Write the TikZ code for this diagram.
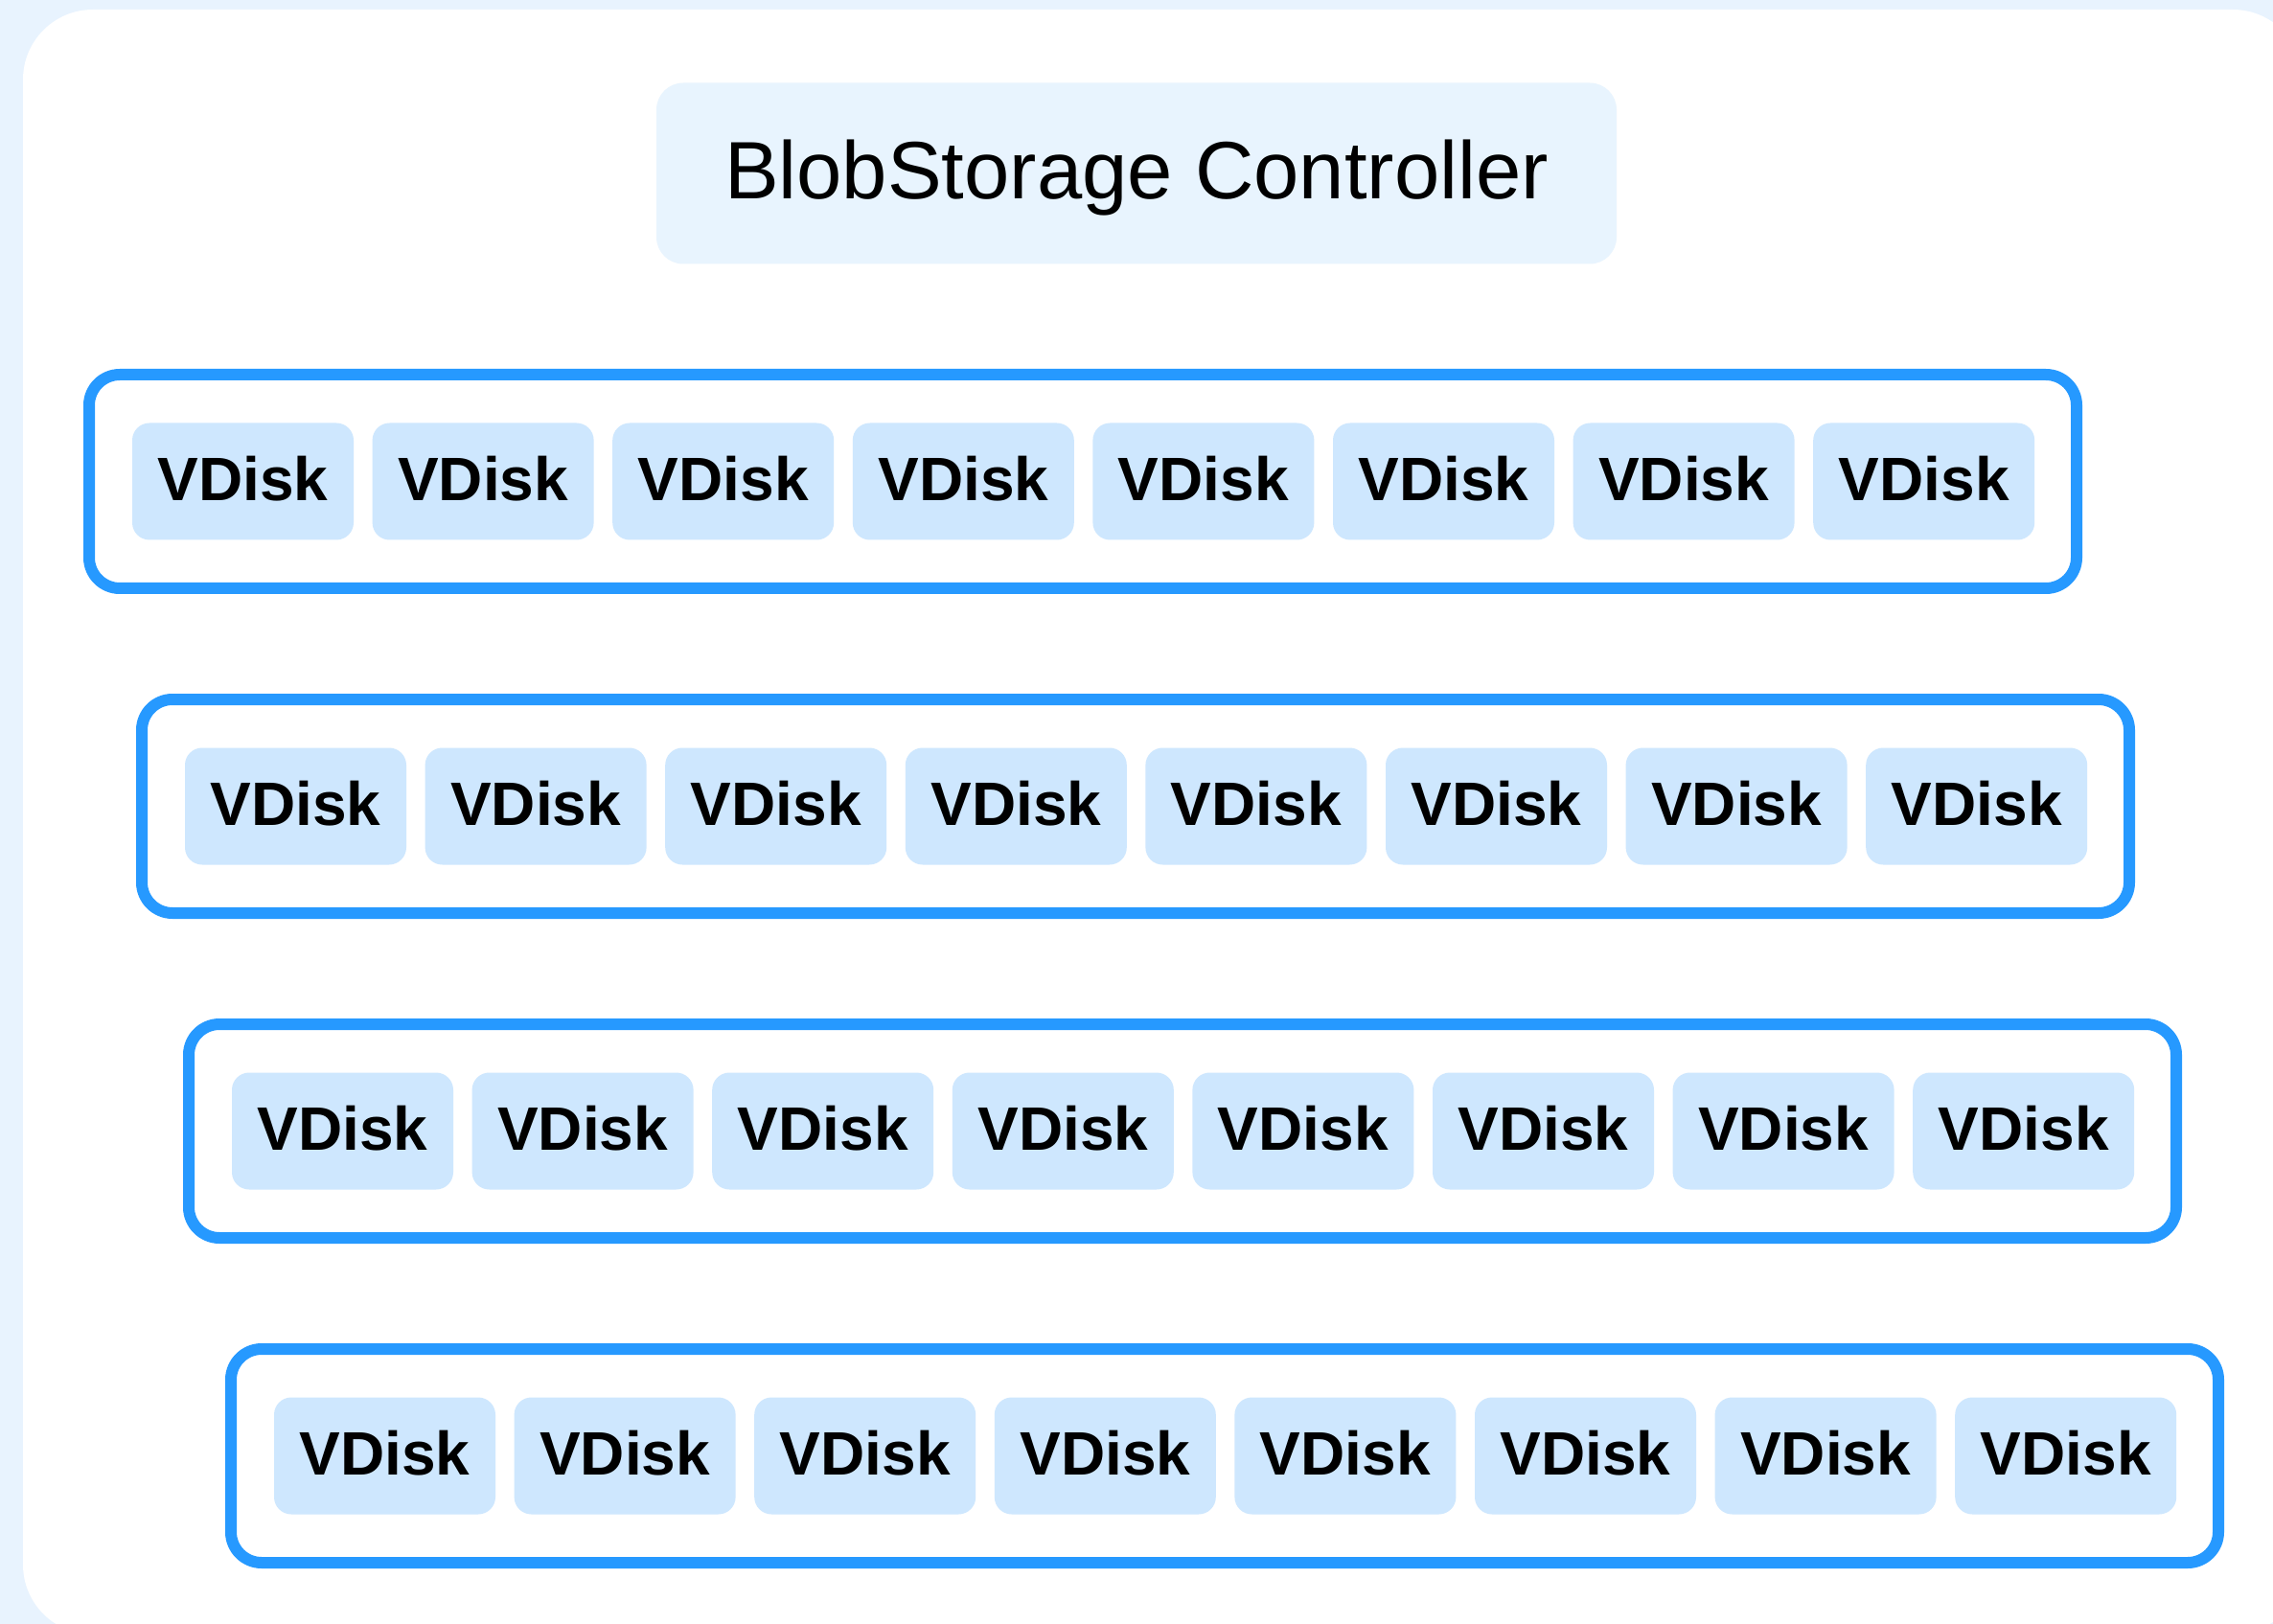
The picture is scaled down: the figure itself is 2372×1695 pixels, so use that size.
\documentclass[tikz,border=0pt]{standalone}
\usepackage{fontspec}
\setmainfont{Liberation Sans}
\definecolor{pagebg}{RGB}{232,243,254}
\definecolor{ctrlfill}{RGB}{232,244,254}
\definecolor{diskfill}{RGB}{206,231,254}
\definecolor{rowline}{RGB}{38,153,255}
\tikzset{
  controller/.style={rectangle, rounded corners=14pt, fill=ctrlfill,
    minimum width=501pt, minimum height=94.5pt, inner sep=0pt,
    text height=26.7pt, text depth=0pt,
    font=\fontsize{42.5}{50}\selectfont, text=black},
  group/.style={rectangle, rounded corners=16pt, draw=rowline, line width=6pt,
    fill=white, minimum width=1037pt, minimum height=111.5pt, inner sep=0pt},
  vdisk/.style={rectangle, rounded corners=9pt, fill=diskfill,
    minimum width=115.5pt, minimum height=61pt, inner sep=0pt,
    text height=19.8pt, text depth=0pt,
    font=\fontsize{32}{38}\selectfont\bfseries, text=black}
}
\begin{document}
\begin{tikzpicture}[x=0.5pt, y=-0.5pt]
  \useasboundingbox (0,0) rectangle (2372,1695);
  \clip (0,0) rectangle (2372,1695);
  % page background and the white panel
  \fill[pagebg] (0,0) rectangle (2372,1695);
  \fill[white, rounded corners=36.5pt] (24,10) rectangle (2403,1706);

  % controller
  \node[controller] (ctrl) at (1186,181) {BlobStorage Controller};

  % four groups of eight virtual disks
  \foreach \r/\lx/\ty in {1/87/385, 2/142/724, 3/191/1063, 4/235/1402} {
    \node[group] (grp\r) at ({\lx+1043}, {\ty+117.5}) {};
    \foreach \i in {0,...,7} {
      \node[vdisk] (disk\r-\i) at ({\lx+166.5+\i*250.6}, {\ty+117.5}) {VDisk};
    }
  }
\end{tikzpicture}
\end{document}
